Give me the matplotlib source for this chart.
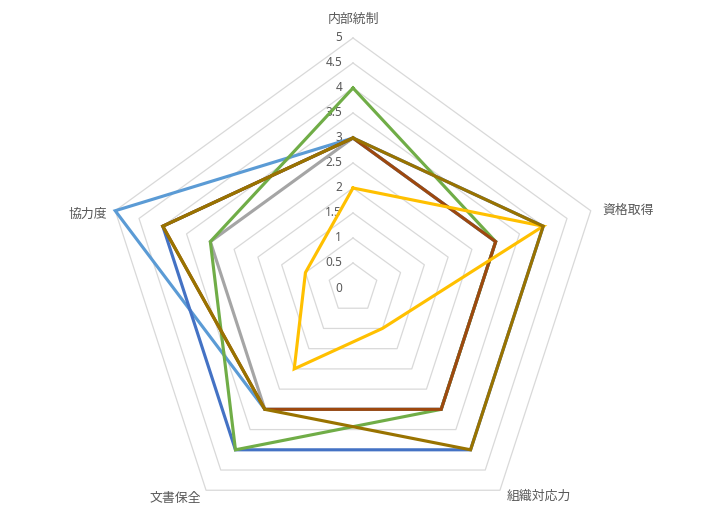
import numpy as np
import matplotlib
matplotlib.use("Agg")
from matplotlib import pyplot as plt

plt.rcParams['font.family'] = ['Noto Sans CJK JP', 'DejaVu Sans']

# axes of the radar, clockwise from the top
categories = ['内部統制', '資格取得', '組織対応力', '文書保全', '協力度']
ticks = [0, 0.5, 1, 1.5, 2, 2.5, 3, 3.5, 4, 4.5, 5]
tick_labels = ['0', '0.5', '1', '1.5', '2', '2.5', '3', '3.5', '4', '4.5', '5']

# series values (same order as categories)
gray_vals = [3, 3, 3, 3, 3]
lightblue_vals = [3, 3, 3, 3, 5]
blue_vals = [3, 4, 4, 4, 4]
green_vals = [4, 3, 3, 4, 3]
brown_vals = [3, 3, 3, 3, 4]
yellow_vals = [2, 4, 1, 2, 1]
gold_vals = [3, 4, 4, 3, 4]

series = [
    (gray_vals, '#A5A5A5'),
    (lightblue_vals, '#5B9BD5'),
    (blue_vals, '#4472C4'),
    (green_vals, '#70AD47'),
    (brown_vals, '#9E480E'),
    (yellow_vals, '#FFC000'),
    (gold_vals, '#997300'),
]

n = len(categories)
angles = np.pi / 2 - 2 * np.pi * np.arange(n) / n


def to_xy(vals):
    # close the polygon and convert radius/angle into x, y
    r = np.append(np.asarray(vals, dtype=float), vals[0])
    a = np.append(angles, angles[0])
    return r * np.cos(a), r * np.sin(a)


fig = plt.figure(figsize=(7.2, 5.2), dpi=100)
ax = fig.add_axes([0, 0, 1, 1])
ax.set_xlim(-7.06, 7.34)
ax.set_ylim(-4.64, 5.76)
ax.axis('off')

# pentagon grid
for t in ticks[1:]:
    gx, gy = to_xy([t] * n)
    ax.plot(gx, gy, color='#D9D9D9', lw=0.9, zorder=1)

# value labels along the top axis
for t, lab in zip(ticks, tick_labels):
    ax.annotate(lab, (0, t), xytext=(-11, 0), textcoords='offset pixels',
                ha='right', va='center', fontsize=8.5, color='#595959',
                family=['Noto Sans', 'DejaVu Sans'])

# category labels
offsets = [((0, 12), 'center', 'bottom'),
           ((12, 0), 'left', 'center'),
           ((7, -6), 'left', 'center'),
           ((-5, -8), 'right', 'center'),
           ((-8, -4), 'right', 'center')]
for cat, a, (off, ha, va) in zip(categories, angles, offsets):
    ax.annotate(cat, (5 * np.cos(a), 5 * np.sin(a)), xytext=off,
                textcoords='offset pixels', ha=ha, va=va,
                fontsize=9.3, color='#595959')

# series lines
for i, (vals, col) in enumerate(series):
    sx, sy = to_xy(vals)
    ax.plot(sx, sy, color=col, lw=2.25, zorder=3 + i, solid_joinstyle='miter')

fig.savefig('out.png', dpi=100)
